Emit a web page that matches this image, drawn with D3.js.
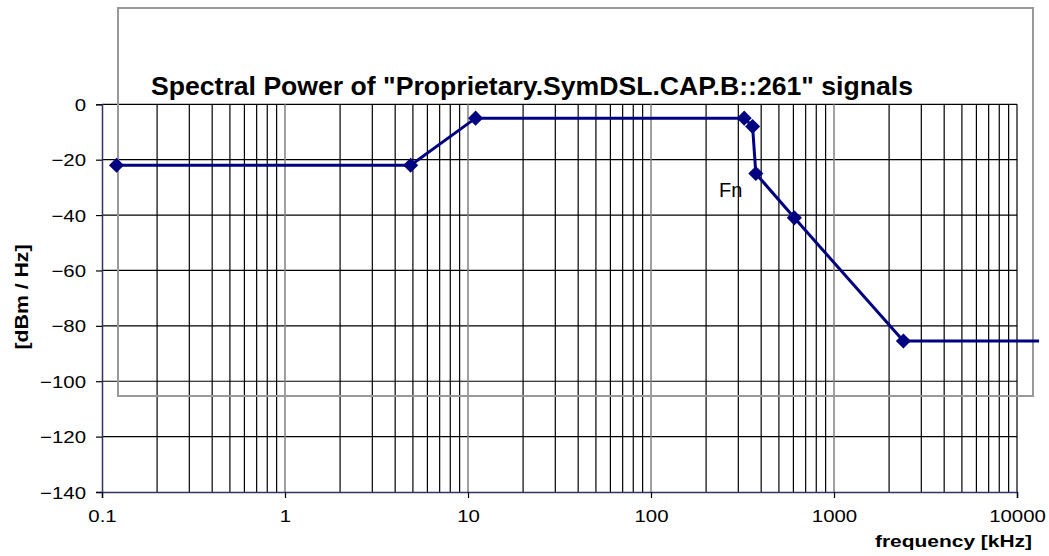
<!DOCTYPE html>
<html>
<head>
<meta charset="utf-8">
<script src="https://cdn.jsdelivr.net/npm/d3@7"></script>
<style>
body { margin: 0; background: #fff; }
text { font-family: "Liberation Sans", Arial, sans-serif; }
</style>
</head>
<body>
<svg id="chart" width="1049" height="556"></svg>
<script>
// spectral mask points (kHz, dBm/Hz)
var freqs = [0.12, 4.86, 11, 323, 359, 374, 607, 2395];
var levels = [-22, -22, -5, -5, -8, -25, -41, -85.5];
// the curve carries on past the axis end, no marker there
var tailFreq = 13200;
var yTicks = [0, -20, -40, -60, -80, -100, -120, -140];
var xTicks = [0.1, 1, 10, 100, 1000, 10000];

var svg = d3.select("#chart");

var x = d3.scaleLog().domain([0.1, 10000]).range([102, 1017]);
var y = d3.scaleLinear().domain([-140, 0]).range([492, 104.3]);

var data = freqs.map((f, i) => ({f: f, v: levels[i]}));

// text in the original is a bit wider than the font, stretch it
function stretch(sel, k) {
    sel.each(function() {
        var w = this.getComputedTextLength();
        d3.select(this).attr("textLength", w * k).attr("lengthAdjust", "spacingAndGlyphs");
    });
}
function fitWidth(sel, w) {
    sel.attr("textLength", w).attr("lengthAdjust", "spacingAndGlyphs");
}

// minor grid (black)
var minor = [];
for (var dec = 0.1; dec < 10000; dec *= 10)
    for (var k = 2; k <= 9; k++) minor.push(dec * k);

svg.append("g").selectAll("line").data(minor)
    .enter().append("line")
    .attr("x1", d => x(d)).attr("x2", d => x(d))
    .attr("y1", y(0)).attr("y2", y(-140))
    .attr("stroke", "#000").attr("stroke-width", 1.2);

// horizontal grid
svg.append("g").selectAll("line").data(yTicks.filter(d => d > -140))
    .enter().append("line")
    .attr("x1", x(0.1)).attr("x2", x(10000))
    .attr("y1", d => y(d)).attr("y2", d => y(d))
    .attr("stroke", "#000").attr("stroke-width", 1.2);

// major decades in grey
svg.append("g").selectAll("line").data(xTicks.slice(1, 5))
    .enter().append("line")
    .attr("x1", d => x(d)).attr("x2", d => x(d))
    .attr("y1", y(0)).attr("y2", y(-140))
    .attr("stroke", "#808080").attr("stroke-width", 1.5);

svg.append("line")
    .attr("x1", x(10000)).attr("x2", x(10000))
    .attr("y1", y(0)).attr("y2", y(-140))
    .attr("stroke", "#000").attr("stroke-width", 1.2);

// grey frame left over from the legend box
svg.append("rect")
    .attr("x", 118).attr("y", 8)
    .attr("width", 915).attr("height", 388)
    .attr("fill", "none")
    .attr("stroke", "#999").attr("stroke-width", 2);

// axes
var yAxis = d3.axisLeft(y).tickValues(yTicks).tickSize(6).tickPadding(10);
var gy = svg.append("g").attr("transform", "translate(" + x(0.1) + ",0)").call(yAxis);

var xAxis = d3.axisBottom(x).tickValues(xTicks).tickSize(6).tickPadding(12)
    .tickFormat(d => d < 1 ? d.toString() : d3.format("d")(d));
var gx = svg.append("g").attr("transform", "translate(0," + y(-140) + ")").call(xAxis);

[gx, gy].forEach(g => {
    g.select(".domain").attr("stroke", "#333366").attr("stroke-width", 1.5);
    g.selectAll(".tick line").attr("stroke", "#000").attr("stroke-width", 1.2);
    g.selectAll(".tick text").attr("font-size", 17).attr("fill", "#000")
        .style("font-family", "Liberation Sans, Arial, sans-serif");
    stretch(g.selectAll(".tick text"), 1.2);
});
gy.selectAll(".tick text").attr("dy", "0.36em");

// curve
var line = d3.line().x(d => x(d.f)).y(d => y(d.v));
svg.append("path")
    .datum(data.concat([{f: tailFreq, v: levels[levels.length - 1]}]))
    .attr("d", line)
    .attr("fill", "none")
    .attr("stroke", "#000080")
    .attr("stroke-width", 3);

svg.append("g").selectAll("path").data(data)
    .enter().append("path")
    .attr("d", d3.symbol().type(d3.symbolDiamond2).size(145))
    .attr("transform", d => "translate(" + x(d.f) + "," + y(d.v) + ")")
    .attr("fill", "#000080");

// labels
svg.append("text")
    .attr("x", 532).attr("y", 95)
    .attr("text-anchor", "middle")
    .attr("font-size", 26).attr("font-weight", "bold")
    .text("Spectral Power of \"Proprietary.SymDSL.CAP.B::261\" signals")
    .call(fitWidth, 762);

svg.append("text")
    .attr("x", 719).attr("y", 197)
    .attr("font-size", 20)
    .text("Fn");

svg.append("text")
    .attr("x", 1032).attr("y", 547)
    .attr("text-anchor", "end")
    .attr("font-size", 16).attr("font-weight", "bold")
    .text("frequency [kHz]")
    .call(fitWidth, 157);

svg.append("text")
    .attr("transform", "translate(28,297) rotate(-90)")
    .attr("text-anchor", "middle")
    .attr("font-size", 18).attr("font-weight", "bold")
    .text("[dBm / Hz]")
    .call(fitWidth, 105);
</script>
</body>
</html>
